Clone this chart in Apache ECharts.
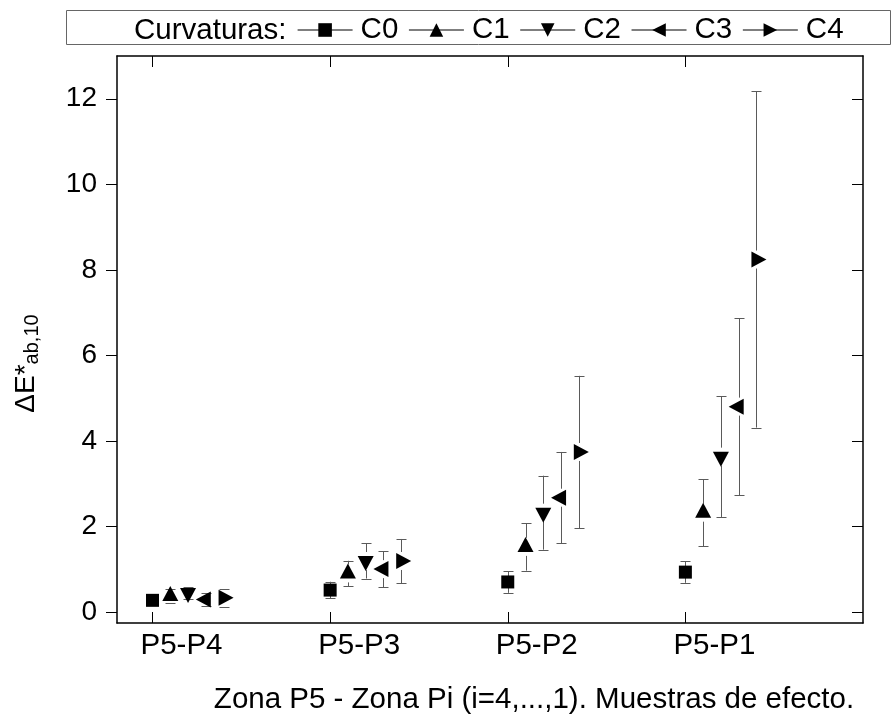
<!DOCTYPE html>
<html><head><meta charset="utf-8">
<script src="https://cdn.jsdelivr.net/npm/echarts@6/dist/echarts.min.js"></script>
<style>html,body{margin:0;padding:0;background:#fff}#c{width:895px;height:723px}</style>
</head><body><div id="c"></div>
<script>
// ---- data ----
const groups = ['P5-P4', 'P5-P3', 'P5-P2', 'P5-P1'];
const seriesNames = ['C0', 'C1', 'C2', 'C3', 'C4'];
const c0 = [0.27, 0.51, 0.70, 0.93];
const c0Err = [0.08, 0.195, 0.255, 0.25];
const c1 = [0.37, 0.90, 1.52, 2.32];
const c1Err = [0.17, 0.295, 0.555, 0.78];
const c2 = [0.44, 1.19, 2.32, 3.63];
const c2Err = [0.15, 0.41, 0.865, 1.41];
const c3 = [0.29, 1.00, 2.67, 4.80];
const c3Err = [0.15, 0.42, 1.07, 2.07];
const c4 = [0.33, 1.19, 3.74, 8.24];
const c4Err = [0.21, 0.515, 1.78, 3.93];
const yTicks = [0, 2, 4, 6, 8, 10, 12];
const xTicks = [1, 2, 3, 4];
const legendTitle = 'Curvaturas:';
const xName = 'Zona P5 - Zona Pi (i=4,...,1). Muestras de efecto.';

// ---- styles ----
const FONT = 'Liberation Sans, Arial, sans-serif';
const values = [c0, c1, c2, c3, c4];
const errs = [c0Err, c1Err, c2Err, c3Err, c4Err];
const symbols = [
  'rect',
  'path://M5,0L10,10L0,10Z',
  'path://M0,0L10,0L5,10Z',
  'path://M10,0L10,10L0,5Z',
  'path://M0,0L10,5L0,10Z'
];
const symSizes = [13, [16, 15], [16, 15], [15, 16], [15, 16]];
const symOffsets = [[0, 0], [0, -2.5], [0, 2.5], [-2.5, 0], [2.5, 0]];
const skipR = [0, 9, 9, 9, 9];
const step = 0.1;

function makeErr(r) {
  return function (params, api) {
    const x = api.value(0), y = api.value(1), e = api.value(2);
    const c = api.coord([x, y]);
    const top = api.coord([x, y + e]);
    const bot = api.coord([x, y - e]);
    const st = { stroke: '#5a5a5a', lineWidth: 1 };
    const px = Math.round(c[0]) + 0.5;
    const ch = [];
    if (c[1] - top[1] > r) ch.push({ type: 'line', shape: { x1: px, y1: top[1], x2: px, y2: c[1] - r }, style: st });
    if (bot[1] - c[1] > r) ch.push({ type: 'line', shape: { x1: px, y1: c[1] + r, x2: px, y2: bot[1] }, style: st });
    ch.push({ type: 'line', shape: { x1: px - 5, y1: Math.round(top[1]) + 0.5, x2: px + 5, y2: Math.round(top[1]) + 0.5 }, style: st });
    ch.push({ type: 'line', shape: { x1: px - 5, y1: Math.round(bot[1]) + 0.5, x2: px + 5, y2: Math.round(bot[1]) + 0.5 }, style: st });
    return { type: 'group', children: ch };
  };
}

const series = [];
seriesNames.forEach((name, k) => {
  series.push({
    type: 'custom', name: name + '_err', z: 1, silent: true,
    renderItem: makeErr(skipR[k]),
    data: groups.map((g, i) => [i + 1 + step * k, values[k][i], errs[k][i]]),
    encode: { x: 0, y: 1 }
  });
});
seriesNames.forEach((name, k) => {
  series.push({
    type: 'line', name: name, z: 3,
    symbol: symbols[k], symbolSize: symSizes[k], symbolOffset: symOffsets[k],
    showSymbol: true, showAllSymbol: true,
    lineStyle: { opacity: 0 },
    itemStyle: { color: '#000' },
    data: groups.map((g, i) => [i + 1 + step * k, values[k][i]])
  });
});

const chart = echarts.init(document.getElementById('c'), null, { renderer: 'canvas' });
const axisLineStyle = { color: '#000', width: 1.5 };
chart.setOption({
  animation: false,
  textStyle: { fontFamily: FONT, color: '#000' },
  grid: { left: 117, right: 32, top: 56, bottom: 100, outerBoundsMode: 'none', containLabel: false },
  legend: {
    data: seriesNames, left: 297, top: 15, padding: 0,
    itemWidth: 55, itemHeight: 17, itemGap: 10,
    selectedMode: false,
    textStyle: { fontSize: 29.5, color: '#000', fontFamily: FONT, padding: [0, 0, 0, 3] },
    lineStyle: { width: 1.2, color: '#000', opacity: 1 },
    itemStyle: { opacity: 1 }
  },
  graphic: [
    { type: 'rect', shape: { x: 66.5, y: 10.5, width: 824, height: 34 }, style: { fill: 'none', stroke: '#666', lineWidth: 1 }, z: 0 },
    { type: 'text', x: 134, y: 30.5, style: { text: legendTitle, font: '29.5px ' + FONT, fill: '#000', textVerticalAlign: 'middle', verticalAlign: 'middle' } }
  ],
  xAxis: [{
    type: 'value', position: 'bottom', min: 0.8, max: 5,
    axisLine: { show: true, onZero: false, lineStyle: axisLineStyle },
    axisTick: { show: true, inside: true, length: 11, customValues: xTicks, lineStyle: { color: '#000', width: 1 } },
    axisLabel: { show: true, customValues: xTicks, formatter: v => groups[Math.round(v) - 1] || '', fontSize: 29.5, color: '#000', margin: 8, padding: [0, 0, 0, 58] },
    splitLine: { show: false },
    name: xName, nameLocation: 'middle', nameGap: 62,
    nameTextStyle: { fontSize: 29.5, color: '#000', padding: [0, 0, 0, 88] }
  }, {
    type: 'value', position: 'top', min: 0.8, max: 5,
    axisLine: { show: true, onZero: false, lineStyle: axisLineStyle },
    axisTick: { show: true, inside: true, length: 11, customValues: xTicks, lineStyle: { color: '#000', width: 1 } },
    axisLabel: { show: false },
    splitLine: { show: false }
  }],
  yAxis: [{
    type: 'value', position: 'left', min: -0.26, max: 13,
    axisLine: { show: true, onZero: false, lineStyle: axisLineStyle },
    axisTick: { show: true, inside: false, length: 11, customValues: yTicks, lineStyle: { color: '#000', width: 1 } },
    axisLabel: { show: true, customValues: yTicks, fontSize: 28, color: '#000', margin: 20 },
    splitLine: { show: false },
    name: '{a|ΔE*}{b|ab,10}', nameLocation: 'middle', nameRotate: 90, nameGap: 75,
    nameTextStyle: {
      padding: [0, 48, 0, 0],
      rich: {
        a: { fontSize: 28, lineHeight: 30, verticalAlign: 'top', color: '#000', fontFamily: FONT },
        b: { fontSize: 20, lineHeight: 20, padding: [17, 0, 0, 0], verticalAlign: 'bottom', color: '#000', fontFamily: FONT }
      }
    }
  }, {
    type: 'value', position: 'right', min: -0.26, max: 13,
    axisLine: { show: true, onZero: false, lineStyle: axisLineStyle },
    axisTick: { show: true, inside: true, length: 11, customValues: yTicks, lineStyle: { color: '#000', width: 1 } },
    axisLabel: { show: false },
    splitLine: { show: false }
  }],
  series: series
});
</script>
</body></html>
